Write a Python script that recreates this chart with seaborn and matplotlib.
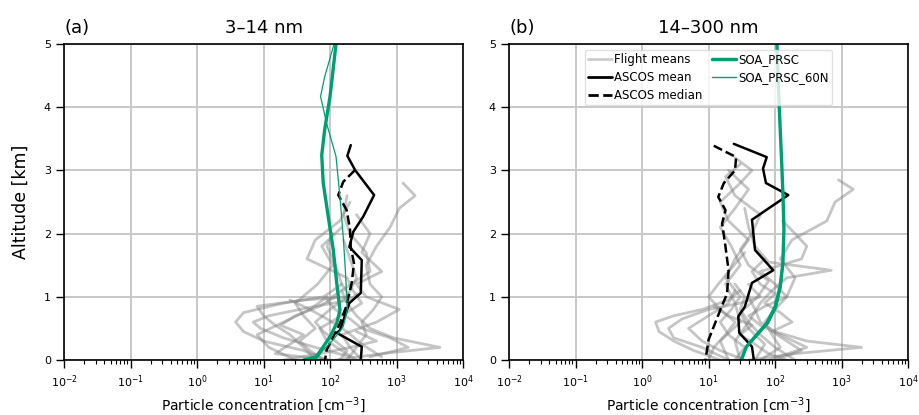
import matplotlib
matplotlib.use("Agg")
import matplotlib.pyplot as plt
from matplotlib.lines import Line2D
from matplotlib.ticker import LogLocator, FixedLocator
import numpy as np
import pandas as pd
import seaborn as sns

# ---------------------------------------------------------------- data
# Panel (a): 3-14 nm particles
flight_alt_a = [
    [0.0, 0.2, 0.4, 0.6, 0.8, 1.0, 1.2, 1.5, 1.8, 2.1, 2.4, 2.6, 2.8],
    [0.0, 0.1, 0.2, 0.35, 0.5, 0.7, 0.9, 1.1],
    [0.0, 0.15, 0.3, 0.45, 0.6, 0.75, 0.9, 1.0, 1.2],
    [0.05, 0.2, 0.35, 0.5, 0.6, 0.7, 0.85, 0.95, 1.05],
    [0.0, 0.2, 0.4, 0.55, 0.7, 0.85, 0.95, 1.0, 1.2, 1.5, 1.8, 2.0],
    [0.0, 0.15, 0.3, 0.5, 0.7, 0.9, 1.1, 1.3, 1.6, 1.9, 2.2, 2.5],
    [0.0, 0.2, 0.4, 0.6, 0.8, 1.0, 1.2, 1.4, 1.7, 2.0, 2.3],
    [0.0, 0.1, 0.25, 0.4, 0.55, 0.7, 0.85, 1.0],
    [0.0, 0.15, 0.3, 0.45, 0.6, 0.8, 1.0, 1.3, 1.6, 1.9],
    [0.05, 0.2, 0.35, 0.5, 0.65, 0.8, 0.95, 1.1, 1.4, 1.7, 2.0, 2.3, 2.6],
    [0.0, 0.2, 0.4, 0.6, 0.8, 1.0],
    [0.0, 0.15, 0.3, 0.5, 0.7, 0.9, 1.2, 1.5, 1.8, 2.1],
    [0.05, 0.25, 0.45, 0.65, 0.8, 0.95],
    [0.0, 0.1, 0.2, 0.3, 0.45],
]
flight_conc_a = [
    [180, 250, 350, 300, 450, 600, 400, 350, 500, 800, 1100, 1900, 1250],
    [120, 600, 4500, 900, 400, 250, 180, 150],
    [90, 40, 10, 5, 3.8, 5, 20, 80, 150],
    [200, 60, 20, 9, 7, 12, 60, 200, 260],
    [60, 40, 25, 15, 10, 8, 40, 200, 150, 120, 90, 110],
    [250, 150, 90, 70, 150, 300, 220, 180, 45, 60, 140, 200],
    [300, 200, 150, 500, 1100, 350, 250, 600, 300, 400, 250],
    [100, 15, 25, 40, 18, 30, 70, 120],
    [140, 180, 120, 80, 60, 100, 180, 250, 200, 160],
    [400, 1500, 800, 300, 200, 120, 90, 150, 400, 350, 200, 160, 180],
    [30, 12, 8, 20, 50, 90],
    [80, 50, 35, 60, 40, 30, 65, 110, 75, 150],
    [600, 300, 180, 90, 50, 25],
    [20, 70, 200, 500, 250],
]
mean_alt_a = [3.40, 3.23, 3.00, 2.61, 2.27, 2.03, 1.79, 1.58, 1.06, 0.90, 0.47, 0.43, 0.21, 0.0]
mean_conc_a = [205, 182, 240, 460, 316, 224, 195, 300, 290, 195, 141, 126, 300, 290]
median_alt_a = [3.00, 2.82, 2.61, 2.37, 2.06, 1.79, 1.53, 1.22, 0.84, 0.58, 0.37, 0.16, 0.0]
median_conc_a = [235, 158, 133, 178, 200, 205, 229, 212, 174, 141, 112, 89, 84]
soa_alt_a = [5.0, 4.17, 3.64, 3.24, 2.80, 2.27, 1.74, 1.22, 0.79, 0.58, 0.37, 0.21, 0.05, 0.0]
soa_conc_a = [123, 100, 83, 75, 79, 94, 112, 126, 141, 126, 100, 79, 62, 40]
soa60_alt_a = [5.0, 4.48, 4.17, 3.74, 3.22, 2.58, 1.95, 1.42, 0.79, 0.53, 0.32, 0.16, 0.05, 0.0]
soa60_conc_a = [115, 83, 72, 89, 123, 141, 158, 170, 182, 158, 112, 79, 66, 60]

# Panel (b): 14-300 nm particles
flight_alt_b = [
    [0.0, 0.2, 0.4, 0.6, 0.8, 1.0, 1.3, 1.6, 1.9, 2.2, 2.5, 2.7, 2.85],
    [0.0, 0.1, 0.2, 0.3, 0.45, 0.6, 0.8, 1.0],
    [0.0, 0.15, 0.3, 0.45, 0.6, 0.7, 0.8, 0.95, 1.1],
    [0.0, 0.2, 0.35, 0.5, 0.65, 0.8, 0.9, 1.0, 1.2],
    [0.0, 0.3, 0.6, 0.9, 1.1, 1.3, 1.42, 1.55, 1.8, 2.1, 2.4],
    [0.0, 0.2, 0.4, 0.6, 0.8, 1.0, 1.3, 1.6, 1.9, 2.2, 2.5, 2.8, 3.0, 3.2],
    [0.0, 0.25, 0.5, 0.75, 1.0, 1.25, 1.5, 1.75, 2.0, 2.3, 2.6, 2.9, 3.1],
    [0.0, 0.15, 0.3, 0.45, 0.6, 0.75, 0.9, 1.05, 1.2, 1.4, 1.6],
    [0.0, 0.2, 0.4, 0.6, 0.8, 1.0, 1.2, 1.45, 1.7],
    [0.0, 0.2, 0.4, 0.55, 0.7, 0.85, 1.0, 1.2, 1.4, 1.6, 1.8, 2.0, 2.2],
    [0.0, 0.15, 0.3, 0.5, 0.7, 0.9, 1.1],
    [0.0, 0.1, 0.25, 0.4, 0.55, 0.7, 0.85],
    [0.0, 0.3, 0.6, 0.9, 1.2, 1.5, 1.8, 2.1, 2.4, 2.7, 3.0],
    [0.0, 0.2, 0.4, 0.6, 0.8, 1.0, 1.2],
]
flight_conc_b = [
    [60, 120, 90, 70, 100, 150, 200, 120, 180, 600, 800, 1500, 900],
    [40, 200, 2000, 300, 100, 60, 50, 40],
    [15, 6, 3, 1.8, 1.6, 3, 8, 20, 30],
    [20, 8, 3, 2.5, 4, 10, 30, 60, 40],
    [30, 25, 40, 60, 90, 150, 700, 80, 50, 40, 35],
    [25, 35, 20, 15, 22, 30, 18, 25, 40, 20, 15, 30, 45, 25],
    [50, 70, 40, 30, 55, 80, 40, 30, 45, 60, 25, 18, 30],
    [100, 250, 150, 90, 180, 120, 70, 100, 60, 45, 70],
    [10, 12, 18, 25, 15, 10, 14, 22, 35],
    [80, 300, 120, 60, 40, 70, 150, 100, 60, 250, 300, 200, 130],
    [35, 15, 8, 5, 10, 20, 25],
    [150, 80, 50, 30, 45, 20, 12],
    [20, 15, 30, 25, 18, 30, 22, 15, 25, 40, 20],
    [200, 100, 60, 40, 30, 35, 25],
]
mean_alt_b = [3.42, 3.21, 3.03, 2.80, 2.61, 2.22, 1.74, 1.42, 1.22, 0.84, 0.69, 0.43, 0.21, 0.0]
mean_conc_b = [24, 75, 66, 73, 158, 45, 50, 94, 45, 35, 28, 29, 45, 48]
median_alt_b = [3.39, 3.21, 3.00, 2.80, 2.58, 2.37, 2.16, 1.79, 1.42, 1.05, 0.79, 0.53, 0.32, 0.0]
median_conc_b = [12, 26, 25, 17, 14, 18, 16, 18, 20, 19, 15, 12, 10, 9]
soa_alt_b = [5.0, 4.06, 3.11, 2.58, 2.06, 1.53, 1.16, 0.84, 0.58, 0.37, 0.21, 0.0]
soa_conc_b = [107, 115, 126, 132, 136, 131, 119, 100, 75, 50, 37, 31]
soa60_alt_b = [5.0, 4.06, 3.11, 2.58, 2.06, 1.53, 1.16, 0.84, 0.58, 0.37, 0.21, 0.0]
soa60_conc_b = [108, 116, 127, 133, 138, 134, 124, 106, 80, 53, 38, 32]

decade_ticks = [1e-2, 1e-1, 1e0, 1e1, 1e2, 1e3, 1e4]
decade_labels = [r"$10^{-2}$", r"$10^{-1}$", r"$10^{0}$", r"$10^{1}$",
                 r"$10^{2}$", r"$10^{3}$", r"$10^{4}$"]
alt_ticks = [0, 1, 2, 3, 4, 5]

GREEN = "#009E73"

# ---------------------------------------------------------------- style
sns.set_style("white")
plt.rcParams["font.family"] = ["DejaVu Sans"]
plt.rcParams["axes.edgecolor"] = "black"
plt.rcParams["axes.linewidth"] = 1.2
plt.rcParams["text.color"] = "black"
plt.rcParams["axes.labelcolor"] = "black"
plt.rcParams["xtick.color"] = "black"
plt.rcParams["ytick.color"] = "black"


def flights_frame(alts, concs):
    rows = []
    for i, (a, c) in enumerate(zip(alts, concs)):
        rows += [{"flight": i, "alt": aa, "conc": cc} for aa, cc in zip(a, c)]
    return pd.DataFrame(rows)


def draw_panel(ax, f_alt, f_conc, m_alt, m_conc, d_alt, d_conc,
               s_alt, s_conc, s60_alt, s60_conc):
    df = flights_frame(f_alt, f_conc)
    sns.lineplot(data=df, x="conc", y="alt", units="flight", estimator=None,
                 sort=False, color="0.5", alpha=0.45, lw=2, ax=ax, legend=False)
    sns.lineplot(x=m_conc, y=m_alt, sort=False, estimator=None, color="black",
                 lw=1.8, ax=ax)
    sns.lineplot(x=d_conc, y=d_alt, sort=False, estimator=None, color="black",
                 lw=1.8, linestyle="--", ax=ax)
    sns.lineplot(x=s60_conc, y=s60_alt, sort=False, estimator=None, color=GREEN,
                 lw=0.9, ax=ax)
    sns.lineplot(x=s_conc, y=s_alt, sort=False, estimator=None, color=GREEN,
                 lw=2.4, ax=ax)

    ax.set_xscale("log")
    ax.set_xlim(1e-2, 1e4)
    ax.set_ylim(0, 5)
    ax.xaxis.set_major_locator(FixedLocator(decade_ticks))
    ax.set_xticklabels(decade_labels)
    ax.xaxis.set_minor_locator(LogLocator(base=10, subs=np.arange(2, 10), numticks=20))
    ax.set_yticks(alt_ticks)
    ax.grid(True, which="major", color="#c8c8c8", lw=1.4)
    ax.set_axisbelow(True)
    ax.tick_params(axis="both", which="major", direction="out", length=6,
                   width=1, labelsize=8, bottom=True, left=True, colors="black")
    ax.tick_params(axis="x", which="minor", direction="out", length=3.2,
                   width=0.8, bottom=True)
    ax.set_xlabel(r"Particle concentration [cm$^{-3}$]", fontsize=10, labelpad=4)
    ax.set_ylabel("")
    for s in ax.spines.values():
        s.set_visible(True)
        s.set_color("black")


fig = plt.figure(figsize=(9.2, 4.15), dpi=100)
ax_a = fig.add_axes([0.0696, 0.1325, 0.4337, 0.7615])
ax_b = fig.add_axes([0.5533, 0.1325, 0.4337, 0.7615])

draw_panel(ax_a, flight_alt_a, flight_conc_a, mean_alt_a, mean_conc_a,
           median_alt_a, median_conc_a, soa_alt_a, soa_conc_a,
           soa60_alt_a, soa60_conc_a)
draw_panel(ax_b, flight_alt_b, flight_conc_b, mean_alt_b, mean_conc_b,
           median_alt_b, median_conc_b, soa_alt_b, soa_conc_b,
           soa60_alt_b, soa60_conc_b)

ax_a.set_ylabel("Altitude [km]", fontsize=12.5, labelpad=10)
ax_a.set_title("3–14 nm", fontsize=13, pad=8)
ax_a.set_title("(a)", loc="left", fontsize=13, pad=8)
ax_b.set_title("14–300 nm", fontsize=13, pad=8)
ax_b.set_title("(b)", loc="left", fontsize=13, pad=8)

handles = [
    Line2D([], [], color="0.8", lw=2),
    Line2D([], [], color="black", lw=2),
    Line2D([], [], color="black", lw=2, linestyle="--"),
    Line2D([], [], color=GREEN, lw=2.5),
    Line2D([], [], color=GREEN, lw=1),
]
labels = ["Flight means", "ASCOS mean", "ASCOS median", "SOA_PRSC", "SOA_PRSC_60N"]
ax_b.legend(handles, labels, loc="upper center", ncol=2, fontsize=8.5,
            handlelength=2.0, handletextpad=0.2, columnspacing=0.8,
            labelspacing=0.4, borderpad=0.3, frameon=True, framealpha=0.8,
            edgecolor="0.85", fancybox=True)

fig.savefig("out.png", dpi=100)
